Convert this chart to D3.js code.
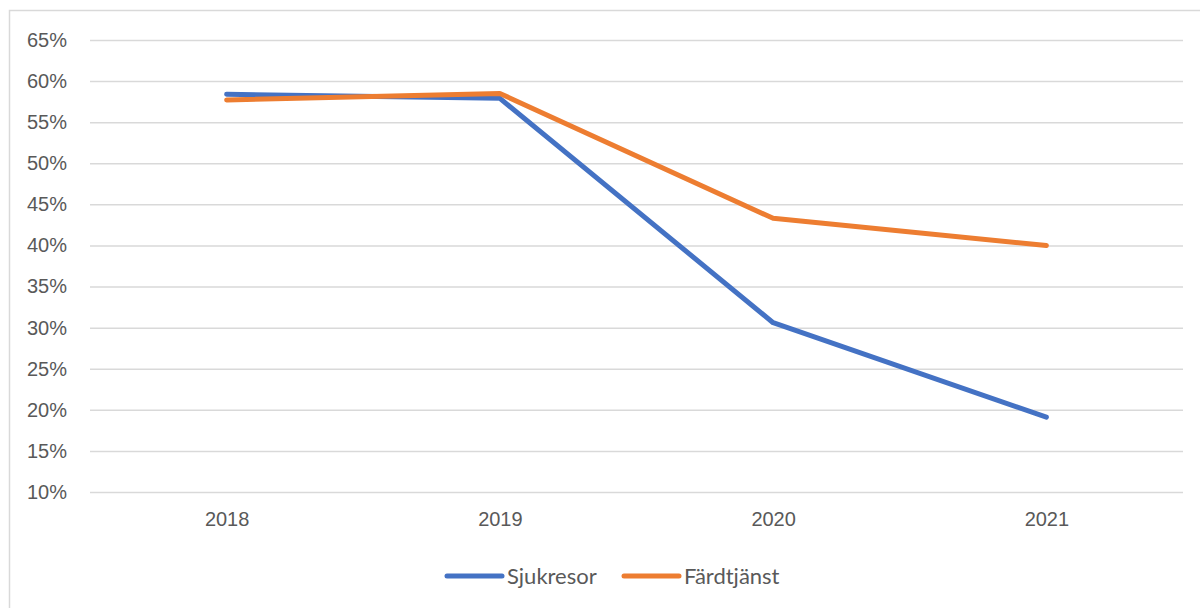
<!DOCTYPE html>
<html>
<head>
<meta charset="utf-8">
<script src="https://cdn.jsdelivr.net/npm/d3@7"></script>
<style>
  html, body { margin: 0; padding: 0; background: #fff; }
  svg { display: block; font-family: Lato, "Open Sans", sans-serif; }
  .axis text { fill: #595959; font-size: 20px; }
  .axis .domain { display: none; }
  .y-axis line { stroke: #d9d9d9; stroke-width: 1.5; }
  .x-axis line { display: none; }
  .legend text { fill: #595959; font-size: 22px; }
</style>
</head>
<body>
<div id="chart"></div>
<script>
// data
const years = ["2018", "2019", "2020", "2021"];
const sjukresor = [0.584, 0.579, 0.306, 0.191];
const fardtjanst = [0.577, 0.585, 0.433, 0.400];
const seriesNames = ["Sjukresor", "Färdtjänst"];
const seriesColors = ["#4472C4", "#ED7D31"];
const yTicks = [0.10, 0.15, 0.20, 0.25, 0.30, 0.35, 0.40, 0.45, 0.50, 0.55, 0.60, 0.65];

const width = 1200, height = 608;
const plot = { left: 90, right: 1183, top: 40, bottom: 492 };

const svg = d3.select("#chart").append("svg")
  .attr("width", width)
  .attr("height", height);

// chart area border (runs off the right/bottom edge like the original)
svg.append("rect")
  .attr("x", 9.5).attr("y", 10.5)
  .attr("width", 1220).attr("height", 620)
  .attr("fill", "none")
  .attr("stroke", "#d9d9d9")
  .attr("stroke-width", 1.5);

const x = d3.scalePoint()
  .domain(years)
  .range([plot.left, plot.right])
  .padding(0.5);

const y = d3.scaleLinear()
  .domain([0.10, 0.65])
  .range([plot.bottom, plot.top]);

// y axis + gridlines
svg.append("g")
  .attr("class", "axis y-axis")
  .attr("transform", `translate(${plot.left},0)`)
  .call(d3.axisLeft(y)
    .tickValues(yTicks)
    .tickSize(-(plot.right - plot.left))
    .tickPadding(23)
    .tickFormat(d3.format(".0%")));

// x axis labels
svg.append("g")
  .attr("class", "axis x-axis")
  .attr("transform", `translate(0,${plot.bottom})`)
  .call(d3.axisBottom(x).tickSize(0).tickPadding(20));

// lines
const line = d3.line()
  .x((d, i) => x(years[i]))
  .y(d => y(d));

[sjukresor, fardtjanst].forEach((vals, k) => {
  svg.append("path")
    .datum(vals)
    .attr("fill", "none")
    .attr("stroke", seriesColors[k])
    .attr("stroke-width", 5)
    .attr("stroke-linecap", "round")
    .attr("stroke-linejoin", "round")
    .attr("d", line);
});

// legend
const legendX = [447, 624];
const legendY = 576;
const legend = svg.append("g").attr("class", "legend");
seriesNames.forEach((name, k) => {
  legend.append("line")
    .attr("x1", legendX[k]).attr("x2", legendX[k] + 55)
    .attr("y1", legendY).attr("y2", legendY)
    .attr("stroke", seriesColors[k])
    .attr("stroke-width", 5)
    .attr("stroke-linecap", "round");
  legend.append("text")
    .attr("x", legendX[k] + 60)
    .attr("y", legendY)
    .attr("dy", "0.35em")
    .text(name);
});
</script>
</body>
</html>
